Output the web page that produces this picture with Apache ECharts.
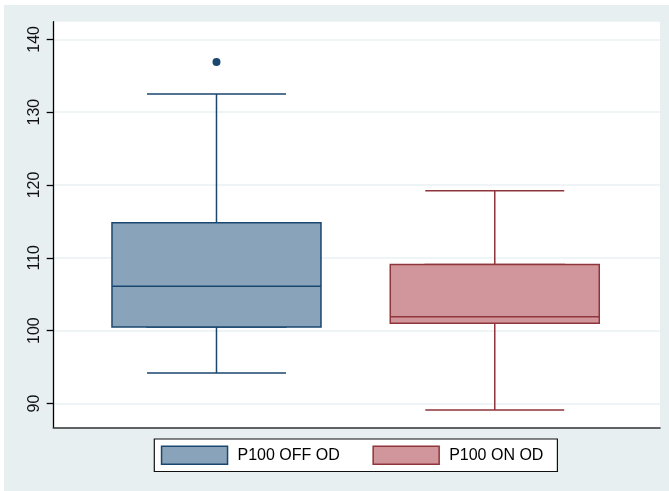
<!DOCTYPE html>
<html><head><meta charset="utf-8">
<script src="https://cdn.jsdelivr.net/npm/echarts@6/dist/echarts.min.js"></script>
<style>html,body{margin:0;padding:0;background:#fff}#c{width:669px;height:491px}</style>
</head><body><div id="c"></div>
<script>
const categories = ['P100 OFF OD', 'P100 ON OD'];
const lowWhisker = [94.2, 89.1];
const q1 = [100.5, 101.0];
const median = [106.1, 101.9];
const q3 = [114.8, 109.1];
const highWhisker = [132.5, 119.2];
const outliers = [[0, 136.9]];
const yTicks = [90, 100, 110, 120, 130, 140];
const yMin = 86.73, yMax = 142.42;

const fills = ['#89a4ba', '#d0969b'];
const strokes = ['#1a476f', '#90353b'];
const FONT = 'Liberation Sans';
const blank = ['-', '-', '-', '-', '-'];

const chart = echarts.init(document.getElementById('c'));

const xAxes = [{
  gridIndex: 0, type: 'value', min: 0, max: 1,
  axisLine: { show: true, onZero: false, lineStyle: { color: '#333', width: 1.6 } },
  axisTick: { show: false }, axisLabel: { show: false }, splitLine: { show: false }
}];
const series = [];
categories.forEach((name, i) => {
  const wIdx = xAxes.length;
  xAxes.push({ gridIndex: 1, type: 'category', data: categories, show: false });
  const bIdx = xAxes.length;
  xAxes.push({ gridIndex: 1, type: 'category', data: categories, show: false });
  const style = { color: fills[i], borderColor: strokes[i], borderWidth: 1.5 };
  series.push({
    name: name, type: 'boxplot', xAxisIndex: wIdx, yAxisIndex: 1,
    boxWidth: [139, 139], itemStyle: style, emphasis: { disabled: true },
    data: categories.map((c, j) => j === i ? [lowWhisker[j], q1[j], median[j], q3[j], highWhisker[j]] : blank)
  });
  series.push({
    name: name, type: 'boxplot', xAxisIndex: bIdx, yAxisIndex: 1,
    boxWidth: [209, 209], itemStyle: style, emphasis: { disabled: true },
    data: categories.map((c, j) => j === i ? [q1[j], q1[j], median[j], q3[j], q3[j]] : blank)
  });
});
series.push({
  type: 'scatter', xAxisIndex: 1, yAxisIndex: 1, symbol: 'circle', symbolSize: 8,
  itemStyle: { color: strokes[0], opacity: 1 }, emphasis: { disabled: true },
  data: outliers
});

chart.setOption({
  animation: false,
  backgroundColor: '#e8eff1',
  textStyle: { fontFamily: FONT },
  graphic: { elements: [
    { type: 'rect', z: 100, silent: true, shape: { x: 0, y: 0, width: 669, height: 5 }, style: { fill: '#fff' } },
    { type: 'rect', z: 100, silent: true, shape: { x: 0, y: 0, width: 4, height: 491 }, style: { fill: '#fff' } }
  ]},
  grid: [
    { left: 53.3, right: 9, top: 21.7, bottom: 63.7, show: true, backgroundColor: '#fff', borderWidth: 0 },
    { left: 77.35, right: 35.1, top: 21.7, bottom: 63.7 }
  ],
  legend: {
    left: 154.3, top: 439, orient: 'horizontal',
    backgroundColor: '#fff', borderColor: '#111', borderWidth: 1.2,
    padding: [6.5, 14, 6.5, 6.5],
    itemWidth: 66, itemHeight: 18, itemGap: 32.6,
    textStyle: { fontFamily: FONT, fontSize: 16, color: '#000', padding: [0, 0, 0, 5] },
    selectedMode: false,
    data: categories.map((n, i) => ({ name: n, icon: 'rect', itemStyle: { color: fills[i], borderColor: strokes[i], borderWidth: 1.5 } }))
  },
  xAxis: xAxes,
  yAxis: [
    {
      gridIndex: 0, type: 'value', min: yMin, max: yMax,
      axisLine: { show: true, lineStyle: { color: '#000', width: 1.3 } },
      axisTick: { show: true, length: 6.6, customValues: yTicks, lineStyle: { color: '#000', width: 1.3 } },
      axisLabel: { show: true, customValues: yTicks, rotate: 90, margin: 11, fontFamily: FONT, fontSize: 16, color: '#111' },
      splitLine: { show: true, lineStyle: { color: '#eaf2f3', width: 1.5 } }
    },
    { gridIndex: 1, type: 'value', min: yMin, max: yMax, show: false, splitLine: { show: false } }
  ],
  series: series
});
</script></body></html>
